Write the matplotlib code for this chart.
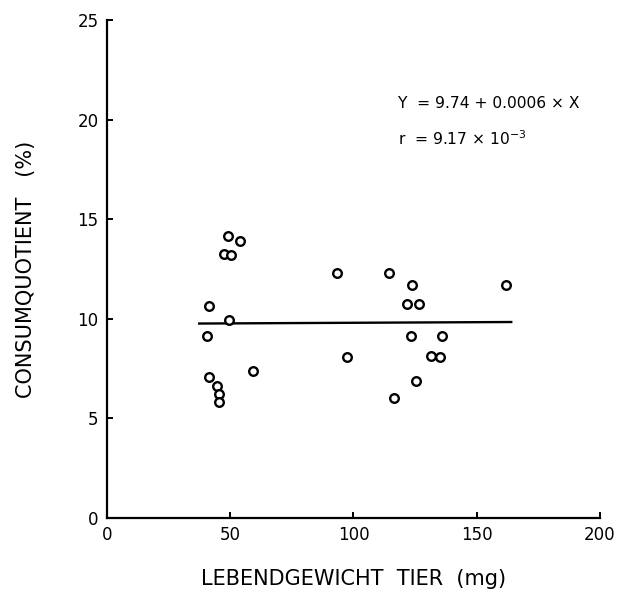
import matplotlib
matplotlib.use("Agg")
import matplotlib.pyplot as plt
import numpy as np

# Data
weight = [49.1, 53.8, 47.5, 50.3, 41.4, 49.5, 40.6, 59.2, 41.4, 44.6, 45.4, 45.4,
          93.2, 114.4, 123.9, 161.7, 121.9, 126.6, 123.2, 136.0, 97.2, 131.4, 135.1, 125.4, 116.6]
quotient = [14.15, 13.9, 13.25, 13.2, 10.65, 9.95, 9.15, 7.4, 7.1, 6.65, 6.25, 5.8,
            12.32, 12.32, 11.68, 11.7, 10.73, 10.73, 9.12, 9.12, 8.1, 8.12, 8.08, 6.9, 6.03]
intercept = 9.74
slope = 0.0006
fit_range = [37.4, 164.0]
xticks = [0, 50, 100, 150, 200]
yticks = [0, 5, 10, 15, 20, 25]

plt.rcParams['font.family'] = ['DejaVu Sans']
fig = plt.figure(figsize=(6.19, 6.0), dpi=100)
ax = fig.add_axes([107/619, 1-518/600, (600-107)/619, (518-20)/600])

ax.plot(weight, quotient, 'o', mfc='white', mec='black', ms=6.2, mew=1.7, zorder=3)
fx = np.array(fit_range)
ax.plot(fx, intercept + slope*fx, color='black', lw=1.7, zorder=2)

ax.set_xlim(0, 200)
ax.set_ylim(0, 25)
ax.set_xticks(xticks)
ax.set_yticks(yticks)
ax.spines['top'].set_visible(False)
ax.spines['right'].set_visible(False)
for s in ('left', 'bottom'):
    ax.spines[s].set_linewidth(1.6)
ax.tick_params(direction='in', length=4, width=1.4, labelsize=12, pad=6)

ax.set_xlabel('LEBENDGEWICHT  TIER  (mg)', fontsize=15, labelpad=18)
ax.set_ylabel('CONSUMQUOTIENT   (%)', fontsize=15, labelpad=30)

ax.text(0.59, 0.832, 'Y  = 9.74 + 0.0006 × X', transform=ax.transAxes, fontsize=11.2, va='center')
ax.text(0.59, 0.762, r'r  = 9.17 × 10$^{-3}$', transform=ax.transAxes, fontsize=11.2, va='center')

fig.savefig('out.png', dpi=100)
